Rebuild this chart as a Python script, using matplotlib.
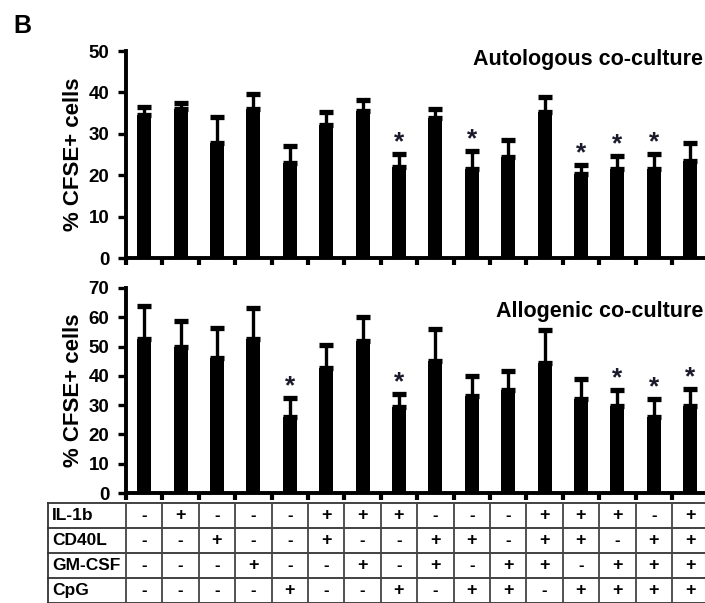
import numpy as np
import matplotlib
matplotlib.use('Agg')
from matplotlib import pyplot as plt

plt.rcParams['font.family'] = ['Liberation Sans', 'DejaVu Sans']

# Autologous co-culture (top)
auto_mean = [34.5, 36.0, 27.8, 36.0, 22.9, 32.1, 35.5, 22.0, 33.8, 21.5, 24.4, 35.3, 20.3, 21.5, 21.5, 23.4]
auto_err = [2.0, 1.4, 6.2, 3.6, 4.2, 3.1, 2.7, 3.1, 2.2, 4.3, 4.1, 3.6, 2.2, 3.1, 3.6, 4.4]
auto_star = [0, 0, 0, 0, 0, 0, 0, 1, 0, 1, 0, 0, 1, 1, 1, 0]

# Allogenic co-culture (bottom)
allo_mean = [52.6, 49.8, 46.1, 52.6, 26.0, 42.7, 51.9, 29.4, 45.0, 33.1, 35.2, 44.4, 32.1, 29.7, 26.0, 29.7]
allo_err = [11.2, 8.9, 10.2, 10.6, 6.4, 7.8, 8.2, 4.4, 11.0, 6.9, 6.5, 11.2, 6.8, 5.5, 6.1, 5.8]
allo_star = [0, 0, 0, 0, 1, 0, 0, 1, 0, 0, 0, 0, 0, 1, 1, 1]

# treatment table
row_names = ['IL-1b', 'CD40L', 'GM-CSF', 'CpG']
table_rows = [
  '-+---+++---+++-+',
  '--+--+--++-++-++',
  '---+--+-+-++-+++',
  '----+--+-++-++++',
]

W, H = 705, 603
fig = plt.figure(figsize=(W / 100, H / 100), dpi=100)

def px_axes(x0, y0, x1, y1):
  return fig.add_axes([x0 / W, 1 - y1 / H, (x1 - x0) / W, (y1 - y0) / H])

n = len(auto_mean)
x = np.arange(n)
step = 36.4
xr = -0.5 + (W - 126) / step

def bar_panel(ax, mean, err, star, top, ystep, title, title_y):
  ax.bar(x, mean, width=0.38, color='black')
  ax.errorbar(x, mean, yerr=[np.zeros(n), err], fmt='none', ecolor='black',
              elinewidth=2.4, capsize=5, capthick=3.8)
  for i in range(n):
    if star[i]:
      ax.text(x[i], mean[i] + err[i] + top * 0.0, '*', ha='center', va='bottom',
              fontsize=19, fontweight='bold', color='#1a1a2a')
  ax.set_xlim(-0.5, xr)
  ax.set_ylim(0, top)
  ax.set_yticks(np.arange(0, top + 1, ystep))
  ax.set_xticks(np.arange(-0.5, n - 0.5, 1))
  ax.set_xticklabels([])
  for s in ['top', 'right']:
    ax.spines[s].set_visible(False)
  for s in ['left', 'bottom']:
    ax.spines[s].set_linewidth(2.8)
  ax.tick_params(axis='y', direction='out', length=6, width=2.4, labelsize=13.5, pad=6)
  ax.tick_params(axis='x', direction='out', length=5, width=3)
  for lab in ax.get_yticklabels():
    lab.set_fontweight('bold')
  ax.set_ylabel('% CFSE+ cells', fontsize=16, fontweight='bold', labelpad=3)
  fig.text(0.997, title_y, title, ha='right', va='center',
           fontsize=15.5, fontweight='bold')

ax1 = px_axes(126, 51, W, 258)
bar_panel(ax1, auto_mean, auto_err, auto_star, 50, 10, 'Autologous co-culture', 1 - 60 / H)

ax2 = px_axes(126, 288, W, 493)
bar_panel(ax2, allo_mean, allo_err, allo_star, 70, 10, 'Allogenic co-culture', 1 - 312 / H)

# table below
tx0 = -0.5 - (126 - 48) / step
axt = px_axes(48, 503, W, H)
axt.set_xlim(tx0, xr)
axt.set_ylim(4, 0)
axt.axis('off')
for r in range(5):
  axt.plot([tx0, xr], [r, r], color='#333333', lw=1.3, clip_on=False)
axt.plot([tx0, tx0], [0, 4], color='#333333', lw=1.3, clip_on=False)
for k in range(n):
  axt.plot([k - 0.5, k - 0.5], [0, 4], color='#444444', lw=1.3)
for r, name in enumerate(row_names):
  axt.text(tx0 + 0.12, r + 0.5, name, ha='left', va='center', fontsize=12.5, fontweight='bold')
  for i, c in enumerate(table_rows[r]):
    axt.text(i, r + 0.5, c, ha='center', va='center', fontsize=13 if c == '+' else 12,
             fontweight='bold')

fig.text(13 / W, 1 - 26 / H, 'B', fontsize=18, fontweight='bold', ha='left', va='center')

fig.savefig('out.png', dpi=100)
